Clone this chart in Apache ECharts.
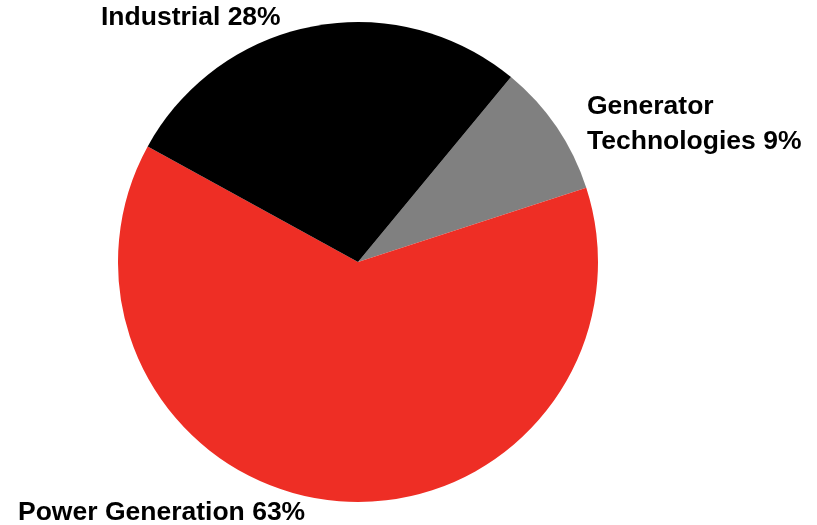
<!DOCTYPE html>
<html>
<head>
<meta charset="utf-8">
<script src="https://cdn.jsdelivr.net/npm/echarts@6/dist/echarts.min.js"></script>
<style>html,body{margin:0;padding:0;background:#fff}#c{width:817px;height:525px}</style>
</head>
<body>
<div id="c"></div>
<script>
const categories = ['Generator Technologies', 'Power Generation', 'Industrial'];
const labelTexts = ['Generator\nTechnologies 9%', 'Power Generation 63%', 'Industrial 28%'];
const values = [9, 63, 28];
const colors = ['#808080', '#EE2E25', '#000000'];
const labelPos = [
  {x: 587, y: 124},
  {x: 18, y: 513},
  {x: 101, y: 18}
];

const chart = echarts.init(document.getElementById('c'));
chart.setOption({
  animation: false,
  series: [{
    type: 'pie',
    center: [358, 262],
    radius: 240,
    startAngle: 50.4,
    clockwise: true,
    data: categories.map((c, i) => ({
      name: c,
      value: values[i],
      itemStyle: {color: colors[i]},
      label: {formatter: labelTexts[i]}
    })),
    label: {
      show: true,
      position: 'outside',
      overflow: 'none',
      fontFamily: 'Liberation Sans, Arial, sans-serif',
      fontWeight: 'bold',
      fontSize: 26.5,
      lineHeight: 35,
      color: '#000'
    },
    labelLine: {show: false},
    labelLayout: function (params) {
      const p = labelPos[params.dataIndex];
      return {x: p.x, y: p.y, align: 'left', verticalAlign: 'middle'};
    },
    emphasis: {disabled: true}
  }]
});
</script>
</body>
</html>
